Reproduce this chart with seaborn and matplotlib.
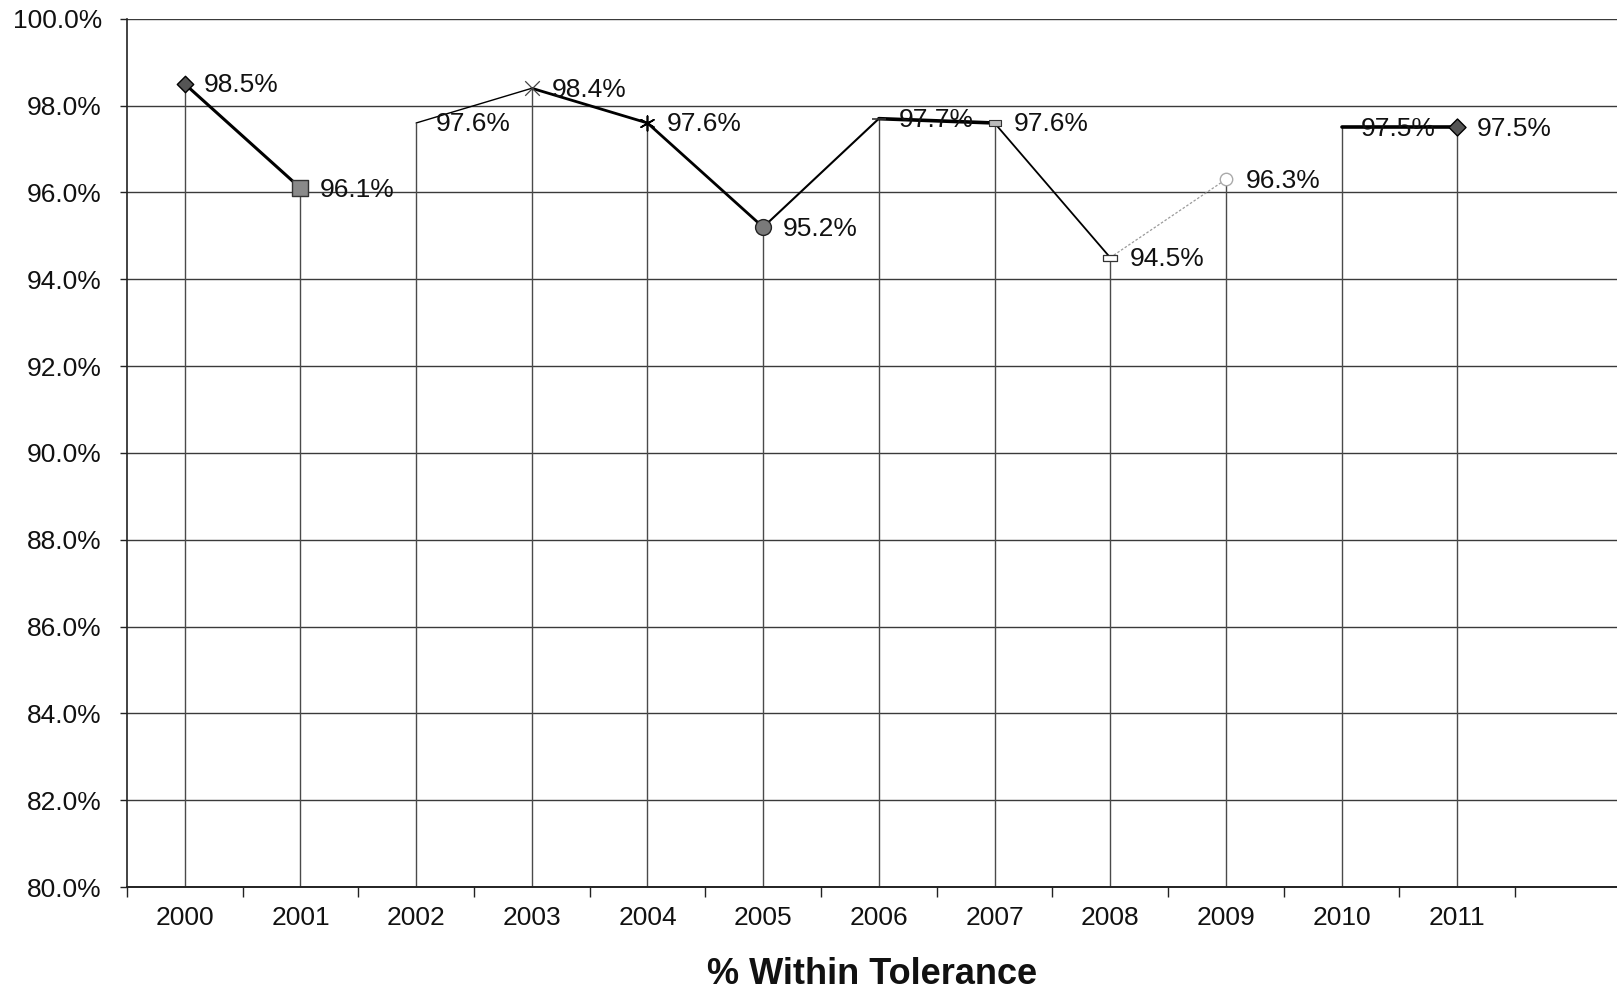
import matplotlib
matplotlib.use("Agg")
import matplotlib.pyplot as plt
import seaborn as sns
import pandas as pd
import numpy as np
from matplotlib.ticker import FixedLocator, FuncFormatter

# Yearly share of measurements within tolerance (%)
years = ["2000", "2001", "2002", "2003", "2004", "2005",
         "2006", "2007", "2008", "2009", "2010", "2011"]
pct = [98.5, 96.1, 97.6, 98.4, 97.6, 95.2, 97.7, 97.6, 94.5, 96.3, 97.5, 97.5]
y_ticks = [80, 82, 84, 86, 88, 90, 92, 94, 96, 98, 100]
title = "% Within Tolerance"

sns.set_style("white")
plt.rcParams["font.family"] = ["Liberation Sans", "DejaVu Sans"]

df = pd.DataFrame({"pos": np.arange(len(years)), "year": years, "pct": pct})

# Each connector runs from year i to year i+1 with its own stroke
connectors = [
    (0, 2.2, "black", "-"),
    (2, 1.0, "black", "-"),
    (3, 2.0, "black", "-"),
    (4, 2.0, "black", "-"),
    (5, 1.5, "black", "-"),
    (6, 2.6, "black", "-"),
    (7, 1.3, "black", "-"),
    (8, 0.9, "#9a9a9a", (0, (2, 1.5))),
    (10, 2.6, "black", "-"),
]

rect = [(-1, -0.45), (1, -0.45), (1, 0.45), (-1, 0.45), (-1, -0.45)]
marker_styles = [
    dict(marker="D", s=70, color="#555555", edgecolor="black", linewidth=1.0),
    dict(marker="s", s=120, color="#8a8a8a", edgecolor="#333333", linewidth=1.0),
    None,
    dict(marker="x", s=110, color="#444444", linewidth=0.9),
    dict(marker=(6, 2, 0), s=110, color="black", linewidth=1.2),
    dict(marker="o", s=130, color="#7a7a7a", edgecolor="#222222", linewidth=1.0),
    dict(marker="_", s=110, color="#333333", linewidth=1.2),
    dict(marker=rect, s=70, color="#bbbbbb", edgecolor="#333333", linewidth=0.8),
    dict(marker=rect, s=90, color="white", edgecolor="#333333", linewidth=0.9),
    dict(marker="o", s=80, color="white", edgecolor="#aaaaaa", linewidth=1.0),
    None,
    dict(marker="D", s=75, color="#555555", edgecolor="black", linewidth=1.0),
]

fig = plt.figure(figsize=(16.17, 9.9), dpi=100)
ax = fig.add_axes([0.0785, 0.104, 0.930, 0.877])

ax.set_xlim(-0.5, 12.5)
ax.set_ylim(80, 100)

# horizontal gridlines
for yv in y_ticks:
    ax.axhline(yv, color="#3a3a3a", linewidth=1.0, zorder=1)

# drop lines from each point to the axis
ax.vlines(df["pos"], 80, df["pct"], color="#4a4a4a", linewidth=1.0, zorder=2)

# connectors
for start, lw, col, ls in connectors:
    seg = df.iloc[start:start + 2]
    sns.lineplot(data=seg, x="pos", y="pct", ax=ax, color=col,
                 linewidth=lw, linestyle=ls, zorder=3, legend=False)

# point markers
for i, style in enumerate(marker_styles):
    if style is None:
        continue
    sns.scatterplot(x=[df["pos"][i]], y=[df["pct"][i]], ax=ax, zorder=4,
                    legend=False, **style)

# value labels
for i, v in enumerate(pct):
    ax.annotate(f"{v:.1f}%", (i, v), xytext=(14, -1), textcoords="offset points",
                ha="left", va="center", fontsize=19, color="#111111", zorder=5)

# axes and ticks
for side in ("top", "right"):
    ax.spines[side].set_visible(False)
ax.spines["left"].set_color("#222222")
ax.spines["bottom"].set_color("#222222")
ax.spines["left"].set_linewidth(1.2)
ax.spines["bottom"].set_linewidth(1.4)

ax.yaxis.set_major_locator(FixedLocator(y_ticks))
ax.yaxis.set_major_formatter(FuncFormatter(lambda v, _: f"{v:.1f}%"))
ax.tick_params(axis="y", direction="out", length=5, width=1, pad=13,
               labelsize=19, left=True, colors="#222222", labelcolor="#111111")

ax.set_xticks(df["pos"])
ax.set_xticklabels(years)
ax.tick_params(axis="x", which="major", length=0, pad=14, labelsize=19,
               labelcolor="#111111")
ax.xaxis.set_minor_locator(FixedLocator(np.arange(-0.5, 12.6, 1.0)))
ax.tick_params(axis="x", which="minor", direction="out", length=7, width=1,
               bottom=True, color="#222222")

ax.set_xlabel("")
ax.set_ylabel("")

fig.text(0.539, 0.006, title, ha="center", va="baseline", fontsize=26,
         fontweight="bold", color="#111111")

fig.savefig("out.png", dpi=100, facecolor="white")
